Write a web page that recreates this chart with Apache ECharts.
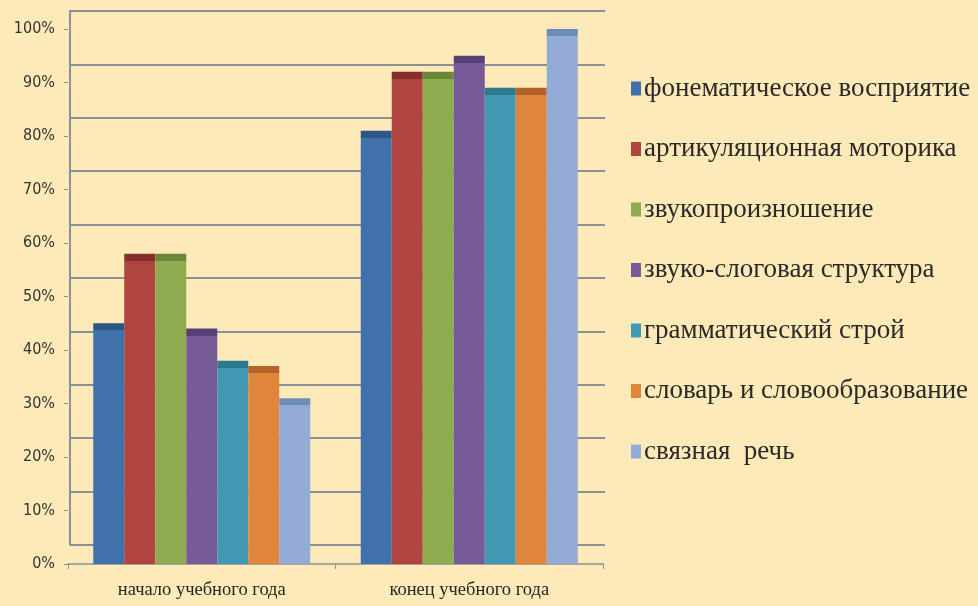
<!DOCTYPE html>
<html><head><meta charset="utf-8">
<script src="https://cdn.jsdelivr.net/npm/echarts@6/dist/echarts.min.js"></script>
<style>html,body{margin:0;padding:0;background:#fdeab8;}#c{width:978px;height:606px;}</style>
</head><body><div id="c"></div>
<script>
const categories = ['начало учебного года', 'конец учебного года'];
const seriesNames = ['фонематическое восприятие','артикуляционная моторика','звукопроизношение','звуко-слоговая структура','грамматический строй','словарь и словообразование','связная  речь'];
const fonemat = [45, 81];
const artik = [58, 92];
const zvukoproiz = [58, 92];
const zvukoslog = [44, 95];
const gramm = [38, 89];
const slovar = [37, 89];
const svyaz = [31, 100];
const yTicks = [0,10,20,30,40,50,60,70,80,90,100];

const values = [fonemat, artik, zvukoproiz, zvukoslog, gramm, slovar, svyaz];
const colors = ['#4171ab','#b0443f','#8eab50','#765b98','#4299b4','#df853c','#93abd6'];
const caps   = ['#2d5586','#862e2b','#6a8838','#573f78','#2b7a92','#b3622a','#6d8cbc'];
const plotH = 535, capPx = 7;

const series = values.map((v, i) => ({
  name: seriesNames[i], type: 'bar', xAxisIndex: 1, yAxisIndex: 1,
  data: v, barWidth: 31, barGap: '0%', z: 5,
  itemStyle: {
    color: function (p) {
      const h = p.value / 100 * plotH;
      const o = Math.min(1, capPx / h);
      return {type:'linear', x:0, y:0, x2:0, y2:1, colorStops:[
        {offset:0, color:caps[i]}, {offset:o, color:caps[i]},
        {offset:o, color:colors[i]}, {offset:1, color:colors[i]}]};
    }
  }
}));

const chart = echarts.init(document.getElementById('c'));
chart.setOption({
  backgroundColor: '#fdeab8',
  animation: false,
  legend: {
    orient: 'vertical', left: 626, top: 70,
    itemWidth: 10, itemHeight: 14, itemGap: 33.5,
    icon: 'rect',
    textStyle: { fontFamily: 'Liberation Serif', fontSize: 27, color: '#2a2a2a', padding: [0,0,0,-2] },
    data: seriesNames.map((n, i) => ({ name: n, itemStyle: { color: colors[i] } }))
  },
  grid: [
    { left: 70, top: 11, width: 535, height: 534 },
    { left: 68, top: 29, width: 535, height: 535 }
  ],
  xAxis: [
    { gridIndex: 0, type: 'category', data: categories, show: true,
      axisLine: { show: false }, axisTick: { show: false }, axisLabel: { show: false } },
    { gridIndex: 1, type: 'category', data: categories,
      axisLine: { show: true, lineStyle: { color: '#8a8f99', width: 1.5 } },
      axisTick: { show: true, length: 5, lineStyle: { color: '#8a8f99' } },
      axisLabel: { fontFamily: 'Liberation Serif', fontSize: 18.5, color: '#262626', margin: 17 } }
  ],
  yAxis: [
    { gridIndex: 0, type: 'value', min: 0, max: 100, interval: 10,
      axisLine: { show: true, lineStyle: { color: '#8a8f99', width: 2 } },
      axisTick: { show: false }, axisLabel: { show: false },
      splitLine: { show: true, lineStyle: { color: '#8a8f99', width: 2 } } },
    { gridIndex: 1, type: 'value', min: 0, max: 100, interval: 10,
      axisLine: { show: false },
      axisTick: { show: true, length: 4, lineStyle: { color: '#8a8f99' } },
      axisLabel: { formatter: v => yTicks.includes(v) ? v + '%' : '', fontFamily: 'Liberation Sans Narrow, DejaVu Sans Condensed, sans-serif', fontSize: 16, color: '#333', margin: 13 },
      splitLine: { show: false } }
  ],
  series: series
});
</script></body></html>
